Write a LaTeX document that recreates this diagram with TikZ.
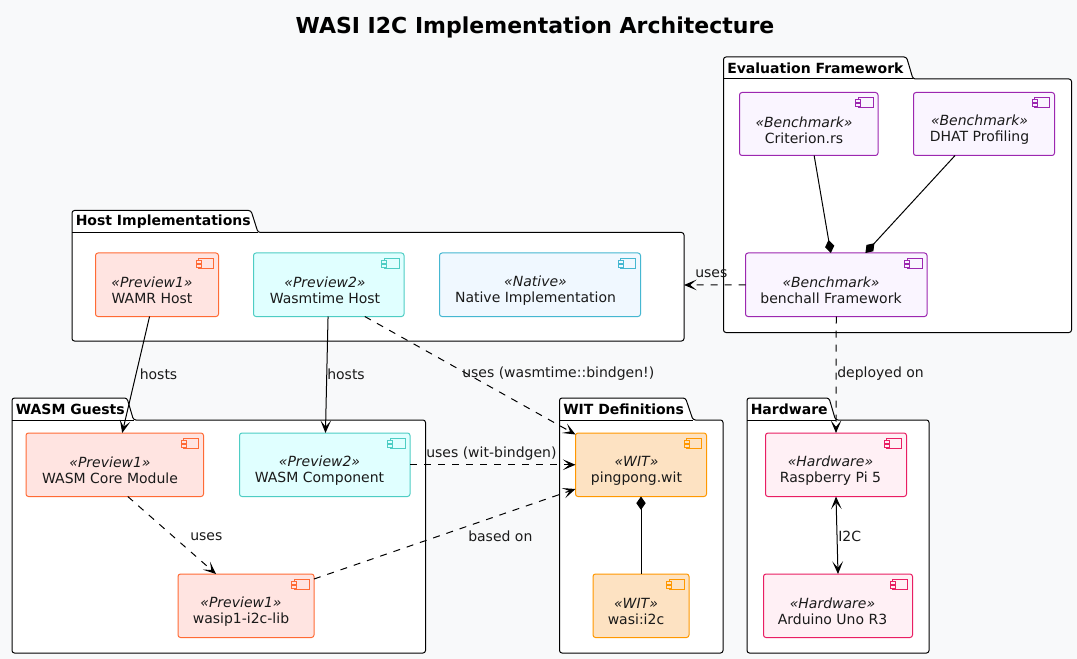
\documentclass[tikz,border=0pt]{standalone}
\usepackage{fontspec}
\setmainfont{DejaVu Sans}
\usetikzlibrary{arrows.meta}
\definecolor{bg}{HTML}{F8F9FA}
\definecolor{ink}{HTML}{1A1A1A}
\newdimen\pxu \pxu=0.75pt
\tikzset{
  compbox/.style={draw,rounded corners=2.5\pxu,line width=1\pxu,inner sep=0pt,outer sep=0pt},
  comptext/.style={text=ink,align=center,inner sep=0pt,font=\fontsize{10.5pt}{12pt}\selectfont},
  pkgtitle/.style={text=black,anchor=west,inner sep=0pt,font=\fontsize{10.5pt}{12pt}\selectfont\bfseries},
  pkgline/.style={draw=black,fill=white,line width=1\pxu,rounded corners=2.5\pxu},
  edgelabel/.style={text=ink,inner sep=0pt,font=\fontsize{10.5pt}{12pt}\selectfont},
  link/.style={draw=black,line width=1\pxu},
  dashlink/.style={link,dash pattern=on 5.25pt off 5.25pt},
  open/.style={-{Stealth[length=9.5pt,width=8pt,inset=4.8pt]}},
  openboth/.style={{Stealth[length=9.5pt,width=8pt,inset=4.8pt]}-{Stealth[length=9.5pt,width=8pt,inset=4.8pt]}},
  compose/.style={-{Diamond[length=10pt,width=7pt]}},
  pone/.style={fill=p1fill,draw=p1line},
  ptwo/.style={fill=p2fill,draw=p2line},
  nat/.style={fill=natfill,draw=natline},
  wit/.style={fill=witfill,draw=witline},
  hw/.style={fill=hwfill,draw=hwline},
  bench/.style={fill=bfill,draw=bline},
}
\definecolor{p1fill}{HTML}{FFE4E1}\definecolor{p1line}{HTML}{FF6B35}
\definecolor{p2fill}{HTML}{E0FFFF}\definecolor{p2line}{HTML}{4ECDC4}
\definecolor{natfill}{HTML}{F0F8FF}\definecolor{natline}{HTML}{45B7D1}
\definecolor{witfill}{HTML}{FDE2C2}\definecolor{witline}{HTML}{FF9800}
\definecolor{hwfill}{HTML}{FFF0F5}\definecolor{hwline}{HTML}{E91E63}
\definecolor{bfill}{HTML}{FAF5FF}\definecolor{bline}{HTML}{9C27B0}
% name, style, x1, y1, x2, y2, text centre x, stereotype, label
\newcommand\compo[9]{%
  \pgfmathsetmacro\cw{#5-#3}\pgfmathsetmacro\ch{#6-#4}%
  \pgfmathsetmacro\cx{(#5+#3)/2}\pgfmathsetmacro\cy{(#6+#4)/2}%
  \pgfmathsetmacro\ty{#4+37.5}%
  \node[compbox,#2,minimum width=\cw\pxu,minimum height=\ch\pxu] (#1) at (\cx,\cy) {};
  \node[comptext] (#1-t) at (#7,\ty) {\textit{«#8»}\\#9};
  \begin{scope}[line width=1\pxu]
    \path[#2] (#5-20,#4+5.5) rectangle (#5-5,#4+15.5);
    \path[#2] (#5-22.5,#4+7.5) rectangle (#5-17.5,#4+10.5);
    \path[#2] (#5-22.5,#4+11.5) rectangle (#5-17.5,#4+14.5);
  \end{scope}
}
% name, x1, top, x2, bottom, tab top right, tab bottom right, title
\newcommand\pkg[8]{%
  \path[pkgline] (#2,#3+22) -- (#2,#3) -- (#6,#3) -- (#7,#3+22) -- (#4,#3+22) -- (#4,#5) -- (#2,#5) -- cycle;
  \draw[line width=1\pxu] (#2,#3+22) -- (#7,#3+22);
  \node[pkgtitle] (#1) at (#2+3.5,#3+11) {#8};
}
\begin{document}
\begin{tikzpicture}[x=0.75pt,y=-0.75pt]
\useasboundingbox (0,0) rectangle (1077,659);
\fill[bg] (0,0) rectangle (1077,659);
\node[text=black,inner sep=0pt,font=\fontsize{16.5pt}{20pt}\selectfont\bfseries] (title) at (535,27) {WASI I2C Implementation Architecture};

\pkg{hostpkg}{72}{210.5}{684}{341}{251}{258}{Host Implementations}
\pkg{guestpkg}{12}{398}{425.5}{653}{127}{133.5}{WASM Guests}
\pkg{witpkg}{559.5}{398}{723}{653}{685.5}{693}{WIT Definitions}
\pkg{hwpkg}{747}{398}{929}{653}{829}{835.5}{Hardware}
\pkg{evalpkg}{723.5}{57}{1071.5}{332.5}{906.5}{913}{Evaluation Framework}
\coordinate (hostedge) at (684,285);

\compo{wamr}{pone}{95.5}{253}{218.5}{316.5}{152}{Preview1}{WAMR Host}
\compo{wasmtime}{ptwo}{253.5}{253}{404}{316.5}{325}{Preview2}{Wasmtime Host}
\compo{native}{nat}{439.5}{253}{640.5}{316.5}{535.5}{Native}{Native Implementation}
\compo{core}{pone}{26}{433}{203.5}{496.5}{110}{Preview1}{WASM Core Module}
\compo{component}{ptwo}{239.5}{433}{410}{496.5}{319.5}{Preview2}{WASM Component}
\compo{wasip}{pone}{178}{574}{314}{637.5}{241}{Preview1}{wasip1-i2c-lib}
\compo{pingpong}{wit}{575.5}{433}{706.5}{496.5}{636.5}{WIT}{pingpong.wit}
\compo{wasii}{wit}{593}{574}{689}{637.5}{636}{WIT}{wasi:i2c}
\compo{raspi}{hw}{765.5}{433}{906.5}{496.5}{830.5}{Hardware}{Raspberry Pi 5}
\compo{arduino}{hw}{763.5}{574}{912.5}{637.5}{832.5}{Hardware}{Arduino Uno R3}
\compo{criterion}{bench}{739.5}{92.5}{878}{155.5}{804}{Benchmark}{Criterion.rs}
\compo{dhat}{bench}{913.5}{92.5}{1054.5}{155.5}{979.5}{Benchmark}{DHAT Profiling}
\compo{benchall}{bench}{745.5}{253}{927}{316.5}{831}{Benchmark}{benchall Framework}

\draw[link,open] (wamr) -- (core);
\draw[link,open] (wasmtime) -- (component);
\draw[dashlink,open] ([xshift=36\pxu]wasmtime.south) -- ([yshift=-1.5\pxu]pingpong.north west);
\draw[dashlink,open] (component.east) -- (pingpong.west);
\draw[dashlink,open] ([yshift=-5\pxu]wasip.north east) -- ([yshift=7.5\pxu]pingpong.south west);
\draw[dashlink,open] ([xshift=13\pxu]core.south) -- ([xshift=-30\pxu]wasip.north);
\draw[dashlink,open] (benchall.west) -- (hostedge);
\draw[dashlink,open] (benchall.south) -- (raspi.north);
\draw[link,openboth] (raspi.south) -- (arduino.north);
\draw[link,compose] (wasii.north) -- (pingpong.south);
\draw[link,compose] (criterion) -- (benchall);
\draw[link,compose] (dhat) -- (benchall);

\node[edgelabel,anchor=west] (l1) at (139.5,374) {hosts};
\node[edgelabel,anchor=west] (l2) at (327,374) {hosts};
\node[edgelabel,anchor=west] (l3) at (462,374) {uses (wasmtime::bindgen!)};
\node[edgelabel,anchor=west] (l4) at (426,454) {uses (wit-bindgen)};
\node[edgelabel,anchor=west] (l5) at (468,536) {based on};
\node[edgelabel,anchor=west] (l6) at (190,537) {uses};
\node[edgelabel,anchor=west] (l7) at (695,274) {uses};
\node[edgelabel,anchor=west] (l8) at (837,374) {deployed on};
\node[edgelabel,anchor=west] (l9) at (838,536) {I2C};
\end{tikzpicture}
\end{document}
